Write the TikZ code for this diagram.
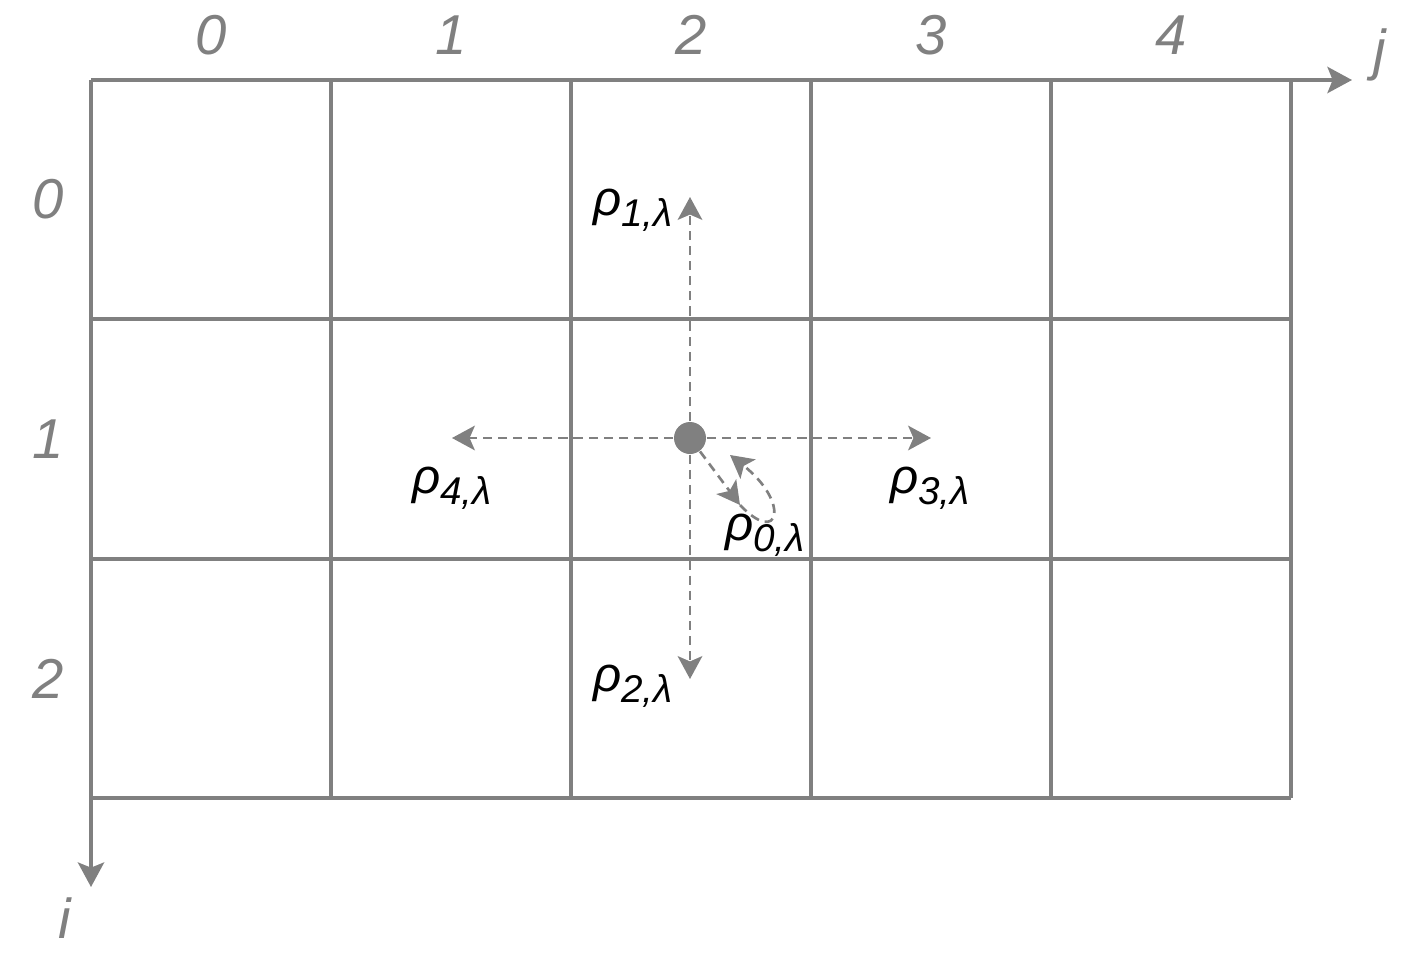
\documentclass[tikz,border=0pt]{standalone}
\usepackage{fontspec}
\setmainfont{Liberation Sans}
\usepackage{tikz}
\usetikzlibrary{arrows.meta}
\definecolor{linegray}{HTML}{808080}
\tikzset{
  gridln/.style={draw=linegray, line width=0.9pt},
  axis/.style={draw=linegray, line width=0.9pt,
               -{Stealth[length=7pt,width=7.5pt,inset=1.5pt]}},
  dflow/.style={draw=linegray, line width=0.75pt, dash pattern=on 2.6pt off 1.7pt,
                -{Stealth[length=6.5pt,width=7pt,inset=1.5pt]}},
  idx/.style={text=linegray, font=\fontsize{16}{18}\selectfont\itshape, inner sep=0pt},
  rho/.style={text=black, font=\fontsize{14}{16}\selectfont\itshape, inner sep=0pt},
  site/.style={circle, fill=linegray, minimum size=0.32cm, inner sep=0pt},
}
\newcommand{\rholab}[1]{ρ\raisebox{-3pt}{\fontsize{11}{12}\selectfont #1,λ}}

\begin{document}
\begin{tikzpicture}
\useasboundingbox (0,0) rectangle (14.16,9.57);
% lattice
\foreach \x in {3.31,5.71,8.11,10.51,12.91} \draw[gridln] (\x,1.59) -- (\x,8.77);
\foreach \y in {6.38,3.98,1.59} \draw[gridln] (0.91,\y) -- (12.91,\y);
% axes
\coordinate (orig) at (0.91,8.77);
\coordinate (jtip) at (13.52,8.77);
\coordinate (itip) at (0.91,0.70);
\draw[axis] (orig) -- (jtip);
\draw[axis] (orig) -- (itip);
\node[idx] (jlab) at (13.80,9.02) {j};
\node[idx] (ilab) at (0.65,0.39) {i};
\foreach \c [count=\k from 0] in {2.11,4.51,6.91,9.31,11.71}
  \node[idx] (col\k) at (\c,9.22) {\k};
\foreach \r [count=\k from 0] in {7.575,5.18,2.785}
  \node[idx] (row\k) at (0.48,\r) {\k};
% hops from the centre site
\node[site] (ctr) at (6.90,5.19) {};
\coordinate (nup) at (6.90,7.60);
\coordinate (ndown) at (6.90,2.78);
\coordinate (nleft) at (4.52,5.19);
\coordinate (nright) at (9.31,5.19);
\draw[dflow] (ctr) -- (nup);
\draw[dflow] (ctr) -- (ndown);
\draw[dflow] (ctr) -- (nleft);
\draw[dflow] (ctr) -- (nright);
\coordinate (lpa) at (7.40,4.52);
\coordinate (lpb) at (7.30,5.02);
\draw[dflow] (ctr) -- (lpa);
\draw[dflow] (lpa) .. controls (7.80,4.10) and (7.90,4.55) .. (lpb);
\node[rho] (r1) at (6.33,7.47) {\rholab{1}};
\node[rho] (r2) at (6.33,2.71) {\rholab{2}};
\node[rho] (r3) at (9.30,4.69) {\rholab{3}};
\node[rho] (r4) at (4.52,4.69) {\rholab{4}};
\node[rho] (r0) at (7.65,4.22) {\rholab{0}};
\end{tikzpicture}
\end{document}
